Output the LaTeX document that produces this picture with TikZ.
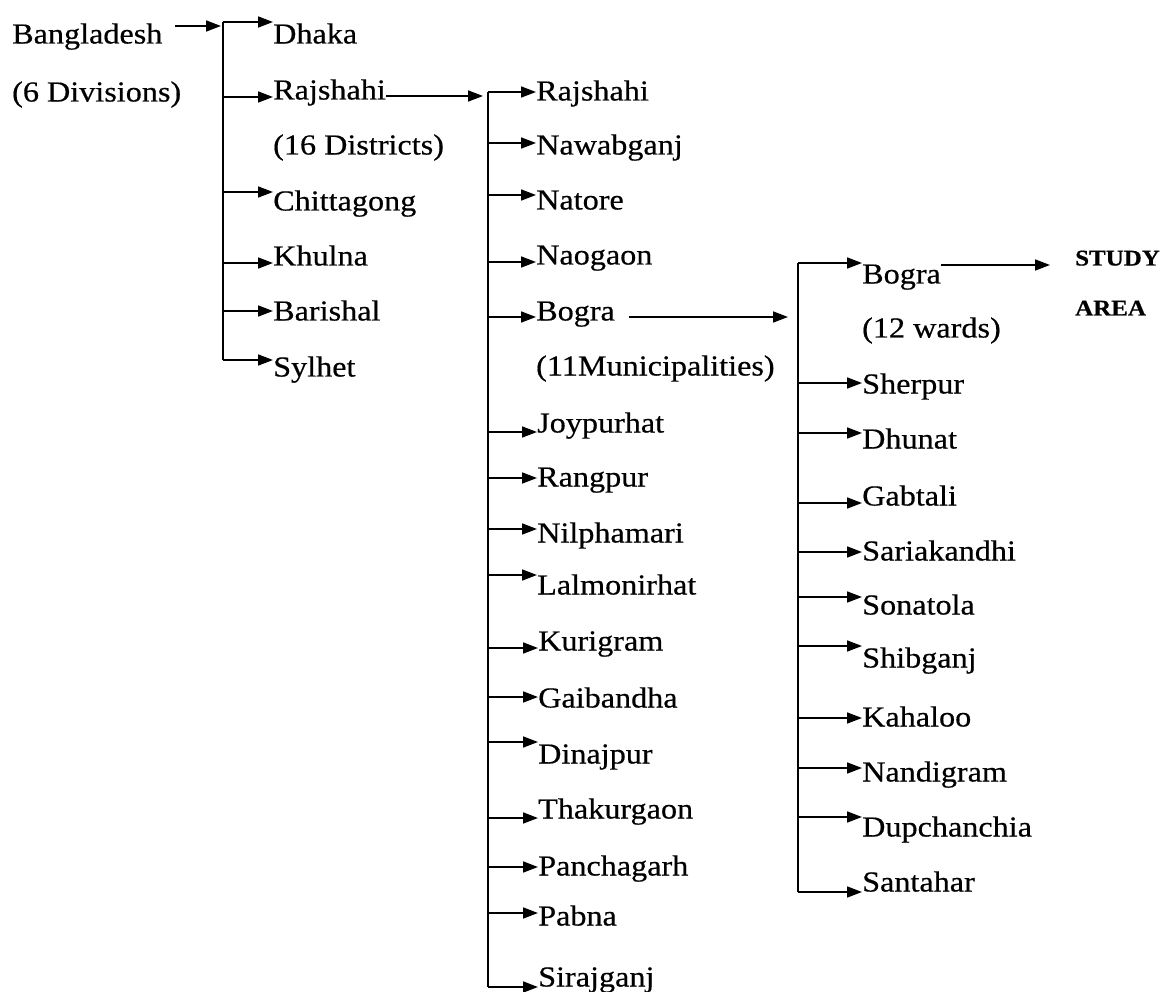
\documentclass[tikz,border=0pt]{standalone}
\usepackage{fontspec}
\setmainfont{Liberation Serif}[FakeStretch=1.11,FakeBold=0.5]
\usetikzlibrary{arrows.meta}

\begin{document}
\begin{tikzpicture}[x=1pt,y=-1pt]
            \tikzset{place/.style = {anchor=west, inner sep=0pt, text height=19pt, text depth=0pt, font=\fontsize{29}{34}\selectfont}}
            \tikzset{study/.style = {place, text height=15pt, font=\fontsize{22.5}{26}\selectfont\bfseries}}
            \tikzset{arr/.style = {draw, line width=1.7pt, -{Triangle[length=15pt,width=11pt]}}}
            \tikzset{bar/.style = {draw, line width=1.7pt}}
            \useasboundingbox (0,0) rectangle (1165,992);
            % country
            \node[place] (bd) at (12,34) {Bangladesh};
            \node[place] (bdnote) at (12,92) {(6 Divisions)};
            % divisions
            \node[place] (dDhaka) at (273,34) {Dhaka};
            \node[place] (dRajshahi) at (273,90) {Rajshahi};
            \node[place] (dnote) at (273,145) {(16 Districts)};
            \node[place] (dChittagong) at (273,201) {Chittagong};
            \node[place] (dKhulna) at (273,256) {Khulna};
            \node[place] (dBarishal) at (273,311) {Barishal};
            \node[place] (dSylhet) at (273,367) {Sylhet};
            % districts
            \node[place] (zRajshahi) at (536,91) {Rajshahi};
            \node[place] (zNawabganj) at (536,145) {Nawabganj};
            \node[place] (zNatore) at (536,200) {Natore};
            \node[place] (zNaogaon) at (536,255) {Naogaon};
            \node[place] (zBogra) at (536,311) {Bogra};
            \node[place] (znote) at (536,366) {(11Municipalities)};
            \node[place] (zJoypurhat) at (537,423) {Joypurhat};
            \node[place] (zRangpur) at (537,477) {Rangpur};
            \node[place] (zNilphamari) at (537,533) {Nilphamari};
            \node[place] (zLalmonirhat) at (537,585) {Lalmonirhat};
            \node[place] (zKurigram) at (538,641) {Kurigram};
            \node[place] (zGaibandha) at (538,698) {Gaibandha};
            \node[place] (zDinajpur) at (538,754) {Dinajpur};
            \node[place] (zThakurgaon) at (538,809) {Thakurgaon};
            \node[place] (zPanchagarh) at (538,866) {Panchagarh};
            \node[place] (zPabna) at (538,916) {Pabna};
            \node[place] (zSirajganj) at (538,977) {Sirajganj};
            % municipalities
            \node[place] (uBogra) at (862,274) {Bogra};
            \node[place] (unote) at (862,328) {(12 wards)};
            \node[place] (uSherpur) at (862,384) {Sherpur};
            \node[place] (uDhunat) at (862,439) {Dhunat};
            \node[place] (uGabtali) at (862,496) {Gabtali};
            \node[place] (uSariakandhi) at (862,551) {Sariakandhi};
            \node[place] (uSonatola) at (862,605) {Sonatola};
            \node[place] (uShibganj) at (862,658) {Shibganj};
            \node[place] (uKahaloo) at (862,717) {Kahaloo};
            \node[place] (uNandigram) at (862,772) {Nandigram};
            \node[place] (uDupchanchia) at (862,827) {Dupchanchia};
            \node[place] (uSantahar) at (862,882) {Santahar};
            % study area
            \node[study] (study) at (1075,258) {STUDY};
            \node[study] (area) at (1075,308) {AREA};
            % bars
            \coordinate (b1top) at (223,22);
            \coordinate (b1bot) at (223,360);
            \coordinate (b2top) at (488,92);
            \coordinate (b2bot) at (488,987);
            \coordinate (b3top) at (798,263);
            \coordinate (b3bot) at (798,892);
            \draw[bar] (b1top) -- (b1bot);
            \draw[bar] (b2top) -- (b2bot);
            \draw[bar] (b3top) -- (b3bot);
            % edges
            \draw[arr, shorten >=2pt] ([xshift=12pt,yshift=8pt]bd.east) -- ([yshift=8pt]bd.east -| b1top);
            \draw[arr, shorten >=5pt] ([yshift=-6pt]dRajshahi.east) -- ([yshift=-6pt]dRajshahi.east -| b2top);
            \draw[arr, shorten >=10pt] ([xshift=14pt,yshift=-6pt]zBogra.east) -- ([yshift=-6pt]zBogra.east -| b3top);
            \draw[arr, shorten >=25pt] ([yshift=9pt]uBogra.east) -- ([yshift=9pt]uBogra.east -| study.west);
            \foreach \n/\s in {dDhaka/12, dRajshahi/-7, dChittagong/9, dKhulna/-7, dBarishal/0, dSylhet/7}
              \draw[arr] ([yshift=\s pt]\n.west -| b1top) -- ([yshift=\s pt]\n.west);
            \foreach \n/\s in {zRajshahi/-1, zNawabganj/2, zNatore/5, zNaogaon/-7, zBogra/-6, zJoypurhat/-9, zRangpur/-1, zNilphamari/4, zLalmonirhat/10, zKurigram/-7, zGaibandha/1, zDinajpur/12, zThakurgaon/-9, zPanchagarh/-1, zPabna/3, zSirajganj/-10}
              \draw[arr] ([yshift=\s pt]\n.west -| b2top) -- ([yshift=\s pt]\n.west);
            \foreach \n/\s in {uBogra/11, uSherpur/1, uDhunat/6, uGabtali/-7, uSariakandhi/-1, uSonatola/8, uShibganj/12, uKahaloo/-1, uNandigram/4, uDupchanchia/10, uSantahar/-10}
              \draw[arr] ([yshift=\s pt]\n.west -| b3top) -- ([yshift=\s pt]\n.west);
        \end{tikzpicture}
\end{document}
